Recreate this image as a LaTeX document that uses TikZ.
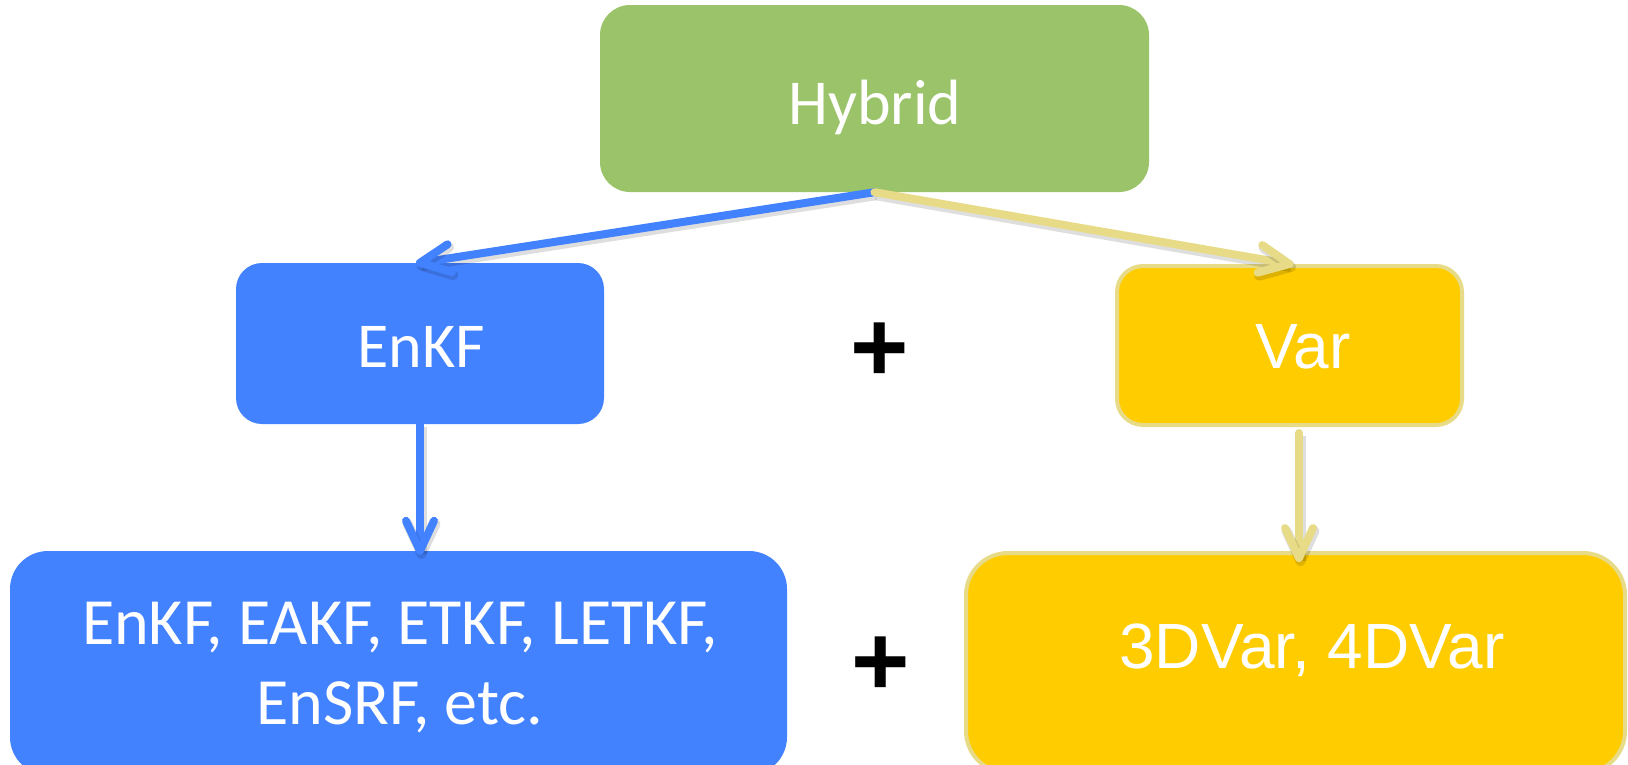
\documentclass[tikz,border=0pt]{standalone}
\usepackage{fontspec}
\setmainfont{Carlito}
\newfontfamily\arialfont{Liberation Sans}
\usetikzlibrary{decorations.markings}

\definecolor{hybgreen}{RGB}{155,195,106}
\definecolor{ensblue}{RGB}{67,130,255}
\definecolor{vargold}{RGB}{255,204,0}
\definecolor{varline}{RGB}{232,219,136}

\tikzset{
  box/.style={rectangle, inner sep=0pt, draw=none},
  goldbox/.style={box, fill=vargold, draw=varline, line width=4pt},
  lbl/.style={inner sep=0pt, text=white, anchor=base, font=\fontsize{64}{64}\selectfont},
  biglbl/.style={lbl, font=\fontsize{66}{66}\selectfont},
  arlbl/.style={lbl, font=\arialfont\fontsize{64}{64}\selectfont},
  plussign/.style={inner sep=0pt, text=black, font=\arialfont\bfseries\fontsize{100}{100}\selectfont},
  softshadow/.style={draw=black, opacity=0.13, line width=10pt,
    transform canvas={shift={(1.5pt,-3pt)}}},
  % open chevron head (with its shadow) at the end of a connector
  chevron/.style={postaction={decorate, decoration={markings,
    mark=at position 1 with {
      \draw[softshadow, line cap=round, line join=round]
        (-30pt,14pt) -- (0pt,0pt) -- (-30pt,-14pt);
      \draw[#1, line width=8pt, line cap=round, line join=round]
        (-30pt,14pt) -- (0pt,0pt) -- (-30pt,-14pt);}}}},
  link/.style={line width=8pt, line cap=round, preaction={softshadow}},
  bluelink/.style={link, draw=ensblue, chevron=ensblue},
  goldlink/.style={link, draw=varline, chevron=varline},
}

\begin{document}
\begin{tikzpicture}[x=1pt, y=-1pt]
  \useasboundingbox (0,0) rectangle (1628,764);

  % boxes
  \node[box, fill=hybgreen, rounded corners=30pt, minimum width=549pt, minimum height=187pt]
    (hybrid) at (874.5,98.5) {};
  \node[box, fill=ensblue, rounded corners=26pt, minimum width=368pt, minimum height=161pt]
    (enkf) at (420,343.5) {};
  \node[goldbox, rounded corners=26pt, minimum width=345pt, minimum height=159pt]
    (var) at (1289.5,345.5) {};
  \node[box, fill=ensblue, rounded corners=38pt, minimum width=777pt, minimum height=224pt]
    (ens) at (398.5,663) {};
  \node[goldbox, rounded corners=42pt, minimum width=659pt, minimum height=220pt]
    (vmeth) at (1295.5,663) {};

  % labels
  \node[lbl] (hybridtxt) at (875,124) {Hybrid};
  \node[lbl] (enkftxt) at (421,367) {EnKF};
  \node[arlbl] (vartxt) at (1303,368) {Var};
  \node[biglbl] (enslineA) at (400,644) {EnKF, EAKF, ETKF, LETKF,};
  \node[biglbl] (enslineB) at (400,724) {EnSRF, etc.};
  \node[arlbl] (vmethtxt) at (1312,668) {3DVar, 4DVar};

  \node[plussign] (plusA) at (880,352) {+};
  \node[plussign] (plusB) at (881,666) {+};

  % connectors
  \draw[bluelink] (hybrid.south) -- (enkf.north);
  \draw[goldlink] (hybrid.south) -- (var.north);
  \draw[bluelink] (enkf.south) -- (enkf.south |- ens.north);
  \draw[goldlink] ([xshift=9.5pt,yshift=-6pt]var.south) -- ([xshift=3.5pt,yshift=-7pt]vmeth.north);
\end{tikzpicture}
\end{document}
